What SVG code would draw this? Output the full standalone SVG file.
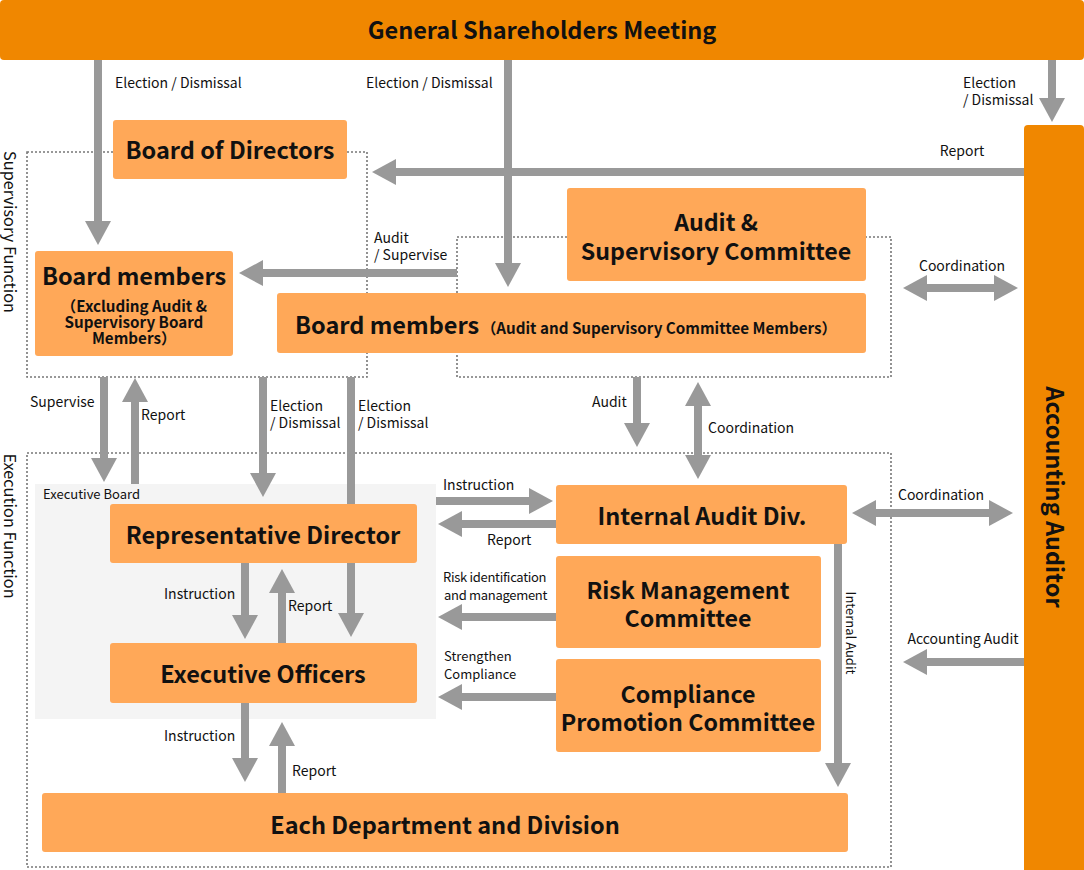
<svg xmlns="http://www.w3.org/2000/svg" width="1084" height="870" viewBox="0 0 1084 870">
<style>
text{font-family:"Noto Sans CJK JP","Noto Sans",sans-serif;fill:#111}
.dark{fill:#F08700}
.box{fill:#FFA858}
.t24{font-size:23.5px;font-weight:bold}
.t2l{font-size:23.2px;font-weight:bold}
.t16b{font-size:15.2px;font-weight:bold}
.lbl{font-size:14px}
.side{font-size:16.3px}
.dot{fill:none;stroke:#777;stroke-width:1.6;stroke-dasharray:2 2}
.arr{fill:none;stroke:#999;stroke-width:8;marker-end:url(#ah)}
.dbl{fill:none;stroke:#999;stroke-width:8;marker-end:url(#ah);marker-start:url(#ah)}
</style>
<defs>
<marker id="ah" markerUnits="userSpaceOnUse" markerWidth="24" markerHeight="26" viewBox="0 0 24 26" refX="0" refY="13" orient="auto-start-reverse"><path d="M0,0L24,13L0,26z" fill="#999"/></marker>
</defs>
<rect width="1084" height="870" fill="#fff"/>

<g id="regions">
<rect class="dot" x="27" y="152" width="340" height="225"/>
<rect class="dot" x="457" y="237" width="434" height="140"/>
<rect class="dot" x="27" y="453" width="864" height="414"/>
<text class="side" transform="translate(4,232) rotate(90)" text-anchor="middle">Supervisory Function</text>
<text class="side" transform="translate(4,526) rotate(90)" text-anchor="middle">Execution Function</text>
<rect x="35" y="484" width="401" height="235" fill="#F4F4F4"/>
<text x="43" y="499" style="font-size:13px">Executive Board</text>
</g>

<g id="connectors">
<path class="arr" d="M98,60V221"/>
<path class="arr" d="M508,60V263"/>
<path class="arr" d="M1052,60V98"/>
<path class="arr" d="M1024,172H396"/>
<path class="arr" d="M457,273H263"/>
<path class="dbl" d="M927,288H994"/>
<path class="arr" d="M104,377V458"/>
<path class="arr" d="M135,484V402"/>
<path class="arr" d="M263,377V473"/>
<path class="arr" d="M351,377V613"/>
<path class="arr" d="M637,377V423"/>
<path class="dbl" d="M698,406V455"/>
<path class="arr" d="M436,501H529"/>
<path class="arr" d="M556,524H462"/>
<path class="arr" d="M556,617H462"/>
<path class="arr" d="M556,697H462"/>
<path class="arr" d="M838,540V763"/>
<path class="dbl" d="M876,513H989"/>
<path class="arr" d="M1024,662H927"/>
<path class="arr" d="M245,563V615"/>
<path class="arr" d="M282,643V593"/>
<path class="arr" d="M245,702V758"/>
<path class="arr" d="M282,793V746"/>
<g class="lbl">
<text x="115" y="88">Election / Dismissal</text>
<text x="366" y="88">Election / Dismissal</text>
<text x="963" y="88">Election</text>
<text x="963" y="105">/ Dismissal</text>
<text x="962" y="156" text-anchor="middle">Report</text>
<text x="374" y="243">Audit</text>
<text x="374" y="260">/ Supervise</text>
<text x="962" y="271" text-anchor="middle">Coordination</text>
<text x="30" y="407">Supervise</text>
<text x="141" y="420">Report</text>
<text x="270" y="411">Election</text>
<text x="270" y="428">/ Dismissal</text>
<text x="358" y="411">Election</text>
<text x="358" y="428">/ Dismissal</text>
<text x="592" y="407">Audit</text>
<text x="708" y="433">Coordination</text>
<text x="443" y="490">Instruction</text>
<text x="487" y="545">Report</text>
<text x="443" y="582" style="font-size:13px;letter-spacing:-0.3px">Risk identification</text>
<text x="444" y="600" style="font-size:13px;letter-spacing:-0.3px">and management</text>
<text x="444" y="661" style="font-size:13px">Strengthen</text>
<text x="444" y="679" style="font-size:13px">Compliance</text>
<text x="164" y="599">Instruction</text>
<text x="288" y="611">Report</text>
<text x="164" y="741">Instruction</text>
<text x="292" y="776">Report</text>
<text x="941" y="500" text-anchor="middle">Coordination</text>
<text x="963" y="644" text-anchor="middle">Accounting Audit</text>
<text transform="translate(846,633) rotate(90)" text-anchor="middle" style="font-size:13px">Internal Audit</text>
</g>
</g>

<g id="gsm">
<rect class="dark" x="0" y="0" width="1084" height="60" rx="4"/>
<text class="t24" x="542" y="39" text-anchor="middle">General Shareholders Meeting</text>
</g>
<g id="accounting-auditor">
<path class="dark" d="M1024,129a4,4 0 0 1 4,-4H1080a4,4 0 0 1 4,4V870H1024z"/>
<text class="t24" transform="translate(1046,497) rotate(90)" text-anchor="middle">Accounting Auditor</text>
</g>
<g id="board-of-directors">
<rect class="box" x="113" y="120" width="234" height="59" rx="3"/>
<text class="t24" x="230" y="159" text-anchor="middle">Board of Directors</text>
</g>
<g id="board-members">
<rect class="box" x="35" y="251" width="198" height="105" rx="3"/>
<text class="t24" x="134" y="285" text-anchor="middle">Board members</text>
<text class="t16b" x="134" y="312" text-anchor="middle">（Excluding Audit &amp;</text>
<text class="t16b" x="134" y="328" text-anchor="middle">Supervisory Board</text>
<text class="t16b" x="134" y="344" text-anchor="middle">Members）</text>
</g>
<g id="audit-supervisory-committee">
<rect class="box" x="567" y="188" width="299" height="93" rx="3"/>
<text class="t2l" x="716" y="231" text-anchor="middle">Audit &amp;</text>
<text class="t2l" x="716" y="260" text-anchor="middle">Supervisory Committee</text>
</g>
<g id="board-members-asc">
<rect class="box" x="277" y="293" width="589" height="60" rx="3"/>
<text class="t24" x="295" y="334">Board members<tspan class="t16b" dx="2">（Audit and Supervisory Committee Members）</tspan></text>
</g>
<g id="representative-director">
<rect class="box" x="110" y="504" width="307" height="59" rx="3"/>
<text class="t24" x="263" y="544" text-anchor="middle">Representative Director</text>
</g>
<g id="executive-officers">
<rect class="box" x="110" y="643" width="307" height="60" rx="3"/>
<text class="t24" x="263" y="683" text-anchor="middle">Executive Officers</text>
</g>
<g id="internal-audit-div">
<rect class="box" x="556" y="485" width="291" height="59" rx="3"/>
<text class="t24" x="702" y="525" text-anchor="middle">Internal Audit Div.</text>
</g>
<g id="risk-management-committee">
<rect class="box" x="556" y="556" width="265" height="92" rx="3"/>
<text class="t2l" x="688" y="599" text-anchor="middle">Risk Management</text>
<text class="t2l" x="688" y="627" text-anchor="middle">Committee</text>
</g>
<g id="compliance-promotion-committee">
<rect class="box" x="556" y="659" width="265" height="93" rx="3"/>
<text class="t2l" x="688" y="703" text-anchor="middle">Compliance</text>
<text class="t2l" x="688" y="731" text-anchor="middle">Promotion Committee</text>
</g>
<g id="each-department">
<rect class="box" x="42" y="793" width="806" height="59" rx="3"/>
<text class="t24" x="445" y="834" text-anchor="middle">Each Department and Division</text>
</g>
</svg>
